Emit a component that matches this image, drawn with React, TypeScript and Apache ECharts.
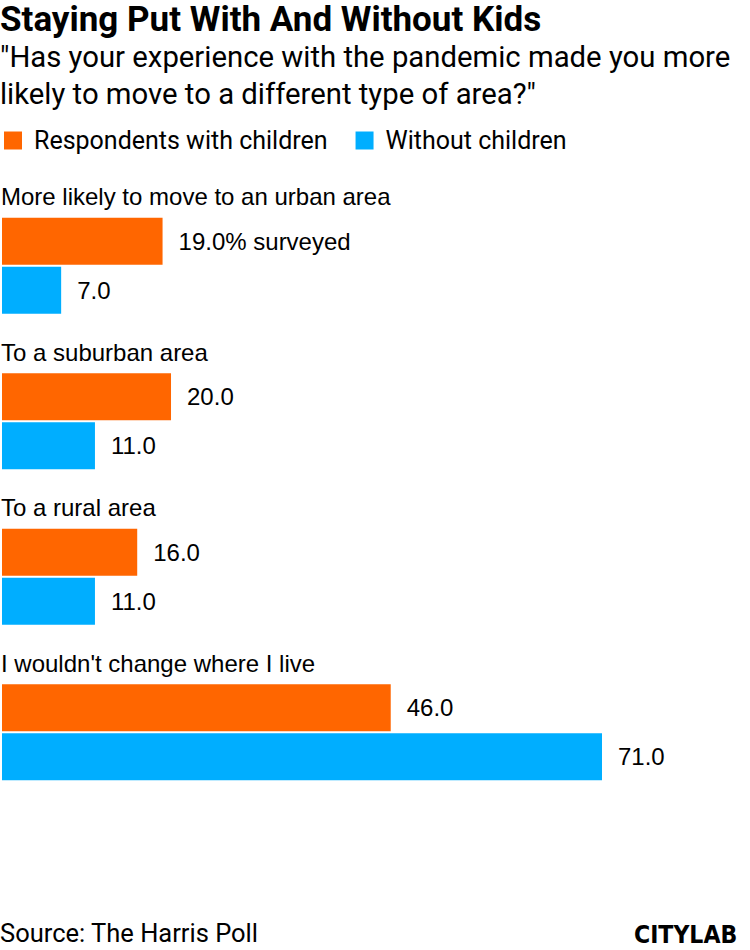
import React, { useEffect, useRef } from "react";
import * as echarts from "echarts";

const categories = [
  "More likely to move to an urban area",
  "To a suburban area",
  "To a rural area",
  "I wouldn't change where I live",
];
const withChildren = [19, 20, 16, 46];
const withoutChildren = [7, 11, 11, 71];
const seriesNames = ["Respondents with children", "Without children"];

const NARROW = "Roboto, 'Liberation Sans', sans-serif";
const SANS = "'Liberation Sans', Arial, sans-serif";

export default function App() {
  const ref = useRef<HTMLDivElement>(null);
  useEffect(() => {
    document.body.style.margin = "0";
    const chart = echarts.init(ref.current!, null, { renderer: "svg" });
    const valueLabel = (first: boolean) => ({
      show: true,
      position: "right" as const,
      distance: 16,
      color: "#000",
      fontFamily: SANS,
      fontSize: 24,
      formatter: (p: any) =>
        first && p.dataIndex === 0
          ? `${Number(p.value).toFixed(1)}% surveyed`
          : Number(p.value).toFixed(1),
    });
    chart.setOption({
      animation: false,
      backgroundColor: "#fff",
      title: [
        {
          text: "Staying Put With And Without Kids",
          left: 0,
          top: 2,
          padding: 0,
          textStyle: { fontFamily: NARROW, fontWeight: "bold", fontSize: 35, color: "#000" },
        },
        {
          text: '"Has your experience with the pandemic made you more\nlikely to move to a different type of area?"',
          left: 0,
          top: 38,
          padding: 0,
          textStyle: { fontFamily: NARROW, fontWeight: "normal", fontSize: 29.3, lineHeight: 37, color: "#000" },
        },
        {
          text: "Source: The Harris Poll",
          left: 0,
          top: 920,
          padding: 0,
          textStyle: { fontFamily: NARROW, fontWeight: "normal", fontSize: 25.5, color: "#000" },
        },
        {
          text: "CITYLAB",
          left: 634,
          top: 922,
          padding: 0,
          textStyle: { fontFamily: "'DejaVu Sans Condensed', 'DejaVu Sans', sans-serif", fontWeight: "bold", fontSize: 24.5, color: "#000" },
        },
      ],
      legend: {
        left: 4,
        top: 128,
        padding: 0,
        icon: "rect",
        itemWidth: 18,
        itemHeight: 18,
        itemGap: 28,
        selectedMode: false,
        textStyle: { fontFamily: NARROW, fontSize: 25, color: "#000", padding: [0, 0, 0, 7] },
        data: seriesNames,
      },
      grid: {
        left: 2,
        right: 148,
        top: 188,
        height: 622,
        containLabel: false,
        outerBoundsMode: "none",
      },
      xAxis: {
        type: "value",
        min: 0,
        max: 71,
        show: false,
      },
      yAxis: {
        type: "category",
        inverse: true,
        data: categories,
        axisLine: { show: false },
        axisTick: { show: false },
        splitLine: { show: false },
        axisLabel: {
          inside: true,
          margin: -1,
          color: "#000",
          fontFamily: SANS,
          fontSize: 24,
          verticalAlign: "bottom",
          lineHeight: 138,
        },
      },
      series: [
        {
          name: seriesNames[0],
          type: "bar",
          data: withChildren,
          barWidth: 47,
          barGap: "4%",
          itemStyle: { color: "#ff6600" },
          label: valueLabel(true),
        },
        {
          name: seriesNames[1],
          type: "bar",
          data: withoutChildren,
          barWidth: 47,
          barGap: "4%",
          itemStyle: { color: "#00aeff" },
          label: valueLabel(false),
        },
      ],
    });
    return () => chart.dispose();
  }, []);
  return (
    <div
      ref={ref}
      style={{ position: "absolute", left: 0, top: 0, width: 750, height: 950 }}
    />
  );
}
